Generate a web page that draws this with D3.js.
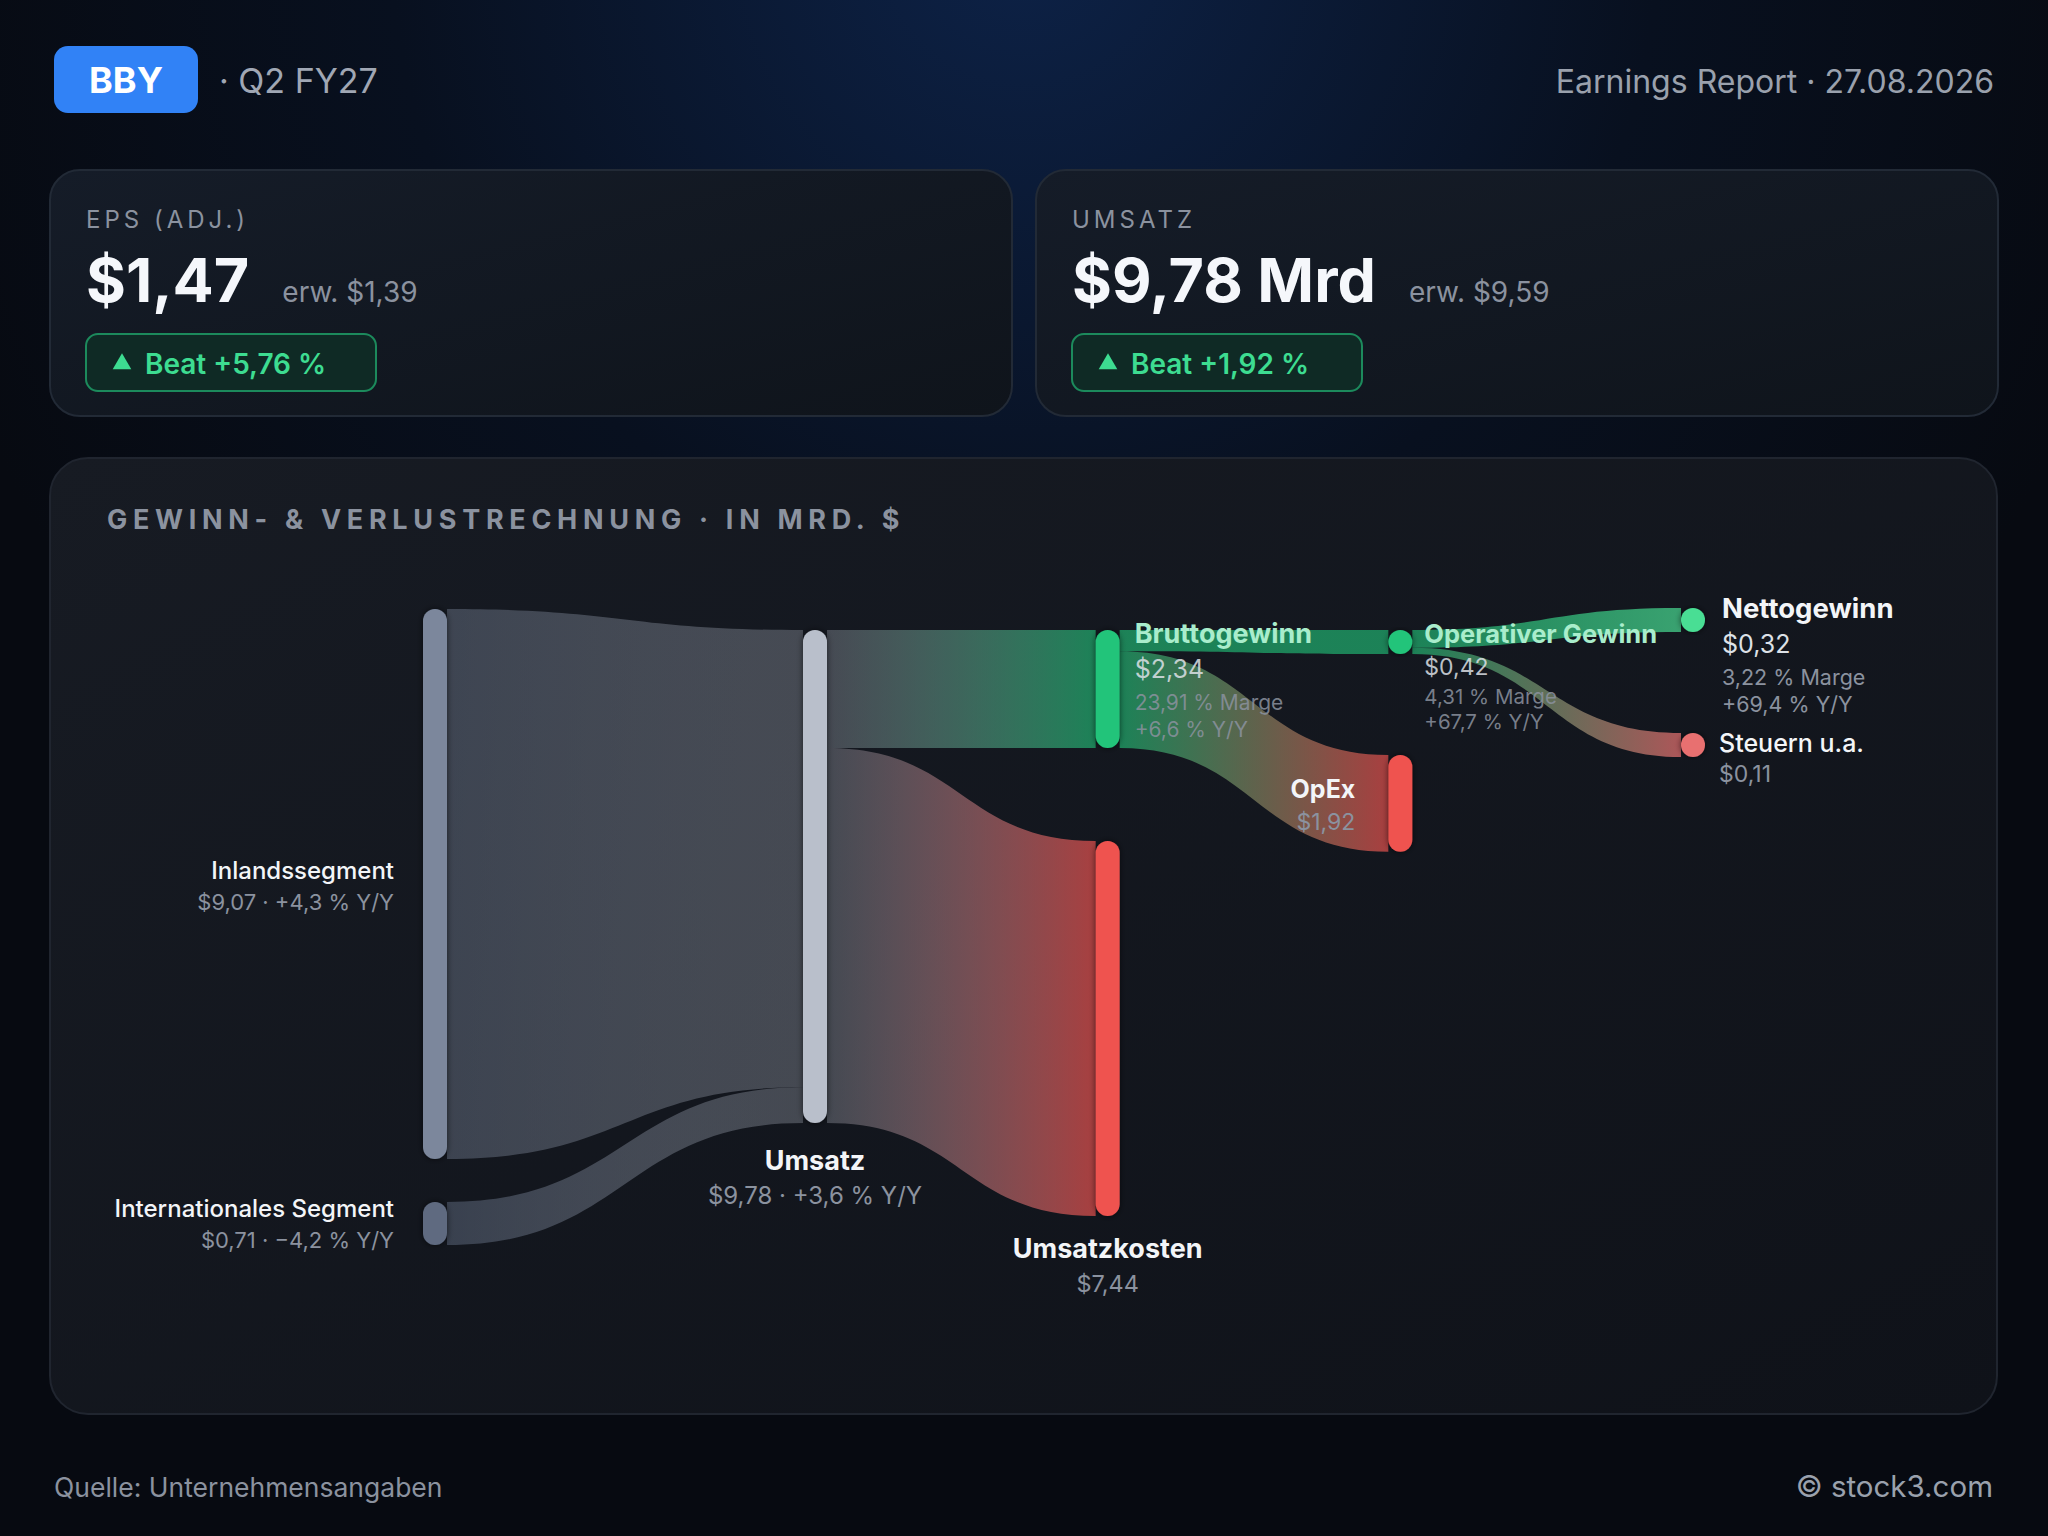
<!DOCTYPE html>
<html>
<head>
<meta charset="utf-8">
<script src="https://cdn.jsdelivr.net/npm/d3@7"></script>
<style>
	html, body { margin: 0; padding: 0; background: #06090f; }
	svg { display: block; font-family: Inter, 'Noto Sans', sans-serif; }
</style>
</head>
<body>
<svg id="chart"></svg>
<script>
const W = 2048;
const H = 1536;

// header / footer texts
const ticker = 'BBY';
const quarter = 'Q2 FY27';
const reportDate = '27.08.2026';
const sourceNote = 'Quelle: Unternehmensangaben';
const brand = '© stock3.com';
const panelTitle = 'GEWINN- & VERLUSTRECHNUNG · IN MRD. $';

// KPI cards
const kpiLabels = ['EPS (ADJ.)', 'UMSATZ'];
const kpiActual = [1.47, 9.78];
const kpiExpected = [1.39, 9.59];
const kpiUnits = ['', ' Mrd'];
const kpiBeat = [5.76, 1.92];

// sankey nodes
const nodeNames = ['Inlandssegment', 'Internationales Segment', 'Umsatz', 'Bruttogewinn', 'Umsatzkosten', 'Operativer Gewinn', 'OpEx', 'Nettogewinn', 'Steuern u.a.'];
const nodeValues = [9.07, 0.71, 9.78, 2.34, 7.44, 0.42, 1.92, 0.32, 0.11];
const nodeColumns = [0, 0, 1, 2, 2, 3, 3, 4, 4];
const nodeYoY = [4.3, -4.2, 3.6, 6.6, null, 67.7, null, 69.4, null];
const nodeMargin = [null, null, null, 23.91, null, 4.31, null, 3.22, null];

// sankey links
const linkSources = [0, 1, 2, 2, 3, 3, 5, 5];
const linkTargets = [2, 2, 3, 4, 5, 6, 7, 8];
const linkValues = [9.07, 0.71, 2.34, 7.44, 0.42, 1.92, 0.32, 0.11];

// styling
const nodeColors = ['#7b879c', '#5f6b80', '#b9bfcb', '#22c47a', '#ef5350', '#22c47a', '#ef5350', '#4ade94', '#e87070'];
const linkAlpha = [0.4, 0.5, 0.3, 0.62, 0.68, 0.62, 0.68, 0.7, 0.72];
const WHITE = '#f3f5f8';
const MINT = '#a9edcc';
const LIGHT = '#dde1e7';
const GRAY = '#8b929f';
const GREEN = '#3ddc91';

const de = d3.formatLocale({ decimal: ',', thousands: '.', grouping: [3], currency: ['$', ''], minus: '\u2212' });
const money = de.format('$.2f');
const signed1 = de.format('+.1f');
const signed2 = de.format('+.2f');
const fixed2 = de.format('.2f');

const svg = d3.select('#chart').attr('width', W).attr('height', H);
const defs = svg.append('defs');

// ---------- background ----------
const bg = defs.append('radialGradient').attr('id', 'bg').attr('gradientUnits', 'userSpaceOnUse')
	.attr('cx', 1024).attr('cy', -60).attr('r', 1150);
bg.append('stop').attr('offset', 0).attr('stop-color', '#0d2247');
bg.append('stop').attr('offset', 0.55).attr('stop-color', '#08101f');
bg.append('stop').attr('offset', 1).attr('stop-color', '#070a11');
svg.append('rect').attr('width', W).attr('height', H).attr('fill', 'url(#bg)');

const cardFill = defs.append('linearGradient').attr('id', 'cardFill').attr('x1', 0).attr('y1', 0).attr('x2', 1).attr('y2', 1);
cardFill.append('stop').attr('offset', 0).attr('stop-color', '#151c28');
cardFill.append('stop').attr('offset', 1).attr('stop-color', '#0f141b');
const panelFill = defs.append('linearGradient').attr('id', 'panelFill').attr('x1', 0).attr('y1', 0).attr('x2', 1).attr('y2', 1);
panelFill.append('stop').attr('offset', 0).attr('stop-color', '#171b23');
panelFill.append('stop').attr('offset', 1).attr('stop-color', '#0f1219');

const shadow = defs.append('filter').attr('id', 'shadow').attr('x', '-50%').attr('y', '-10%').attr('width', '200%').attr('height', '120%');
shadow.append('feDropShadow').attr('dx', 0).attr('dy', 0).attr('stdDeviation', 3)
	.attr('flood-color', '#000').attr('flood-opacity', 0.6);

// ---------- header ----------
svg.append('rect').attr('x', 54).attr('y', 46).attr('width', 144).attr('height', 67).attr('rx', 14)
	.attr('fill', '#3182f6');
svg.append('text').attr('x', 126).attr('y', 93).attr('text-anchor', 'middle')
	.attr('font-size', 36).attr('font-weight', 700).attr('fill', '#fff').text(ticker);
svg.append('text').attr('x', 219).attr('y', 93).attr('font-size', 34).attr('fill', '#a0a7b4')
	.text(`· ${quarter}`);
svg.append('text').attr('x', 1994).attr('y', 93).attr('text-anchor', 'end').attr('font-size', 32)
	.attr('fill', '#9aa1ad').text(`Earnings Report · ${reportDate}`);

// ---------- KPI cards ----------
const CARD_W = 962;
const cardX = d3.scaleLinear().domain([0, 1]).range([50, 50 + CARD_W + 24]);
const cards = svg.selectAll('g.card').data(kpiLabels).join('g').attr('class', 'card')
	.attr('transform', (d, i) => `translate(${cardX(i)},170)`);
cards.append('rect').attr('width', CARD_W).attr('height', 246).attr('rx', 30)
	.attr('fill', 'url(#cardFill)').attr('stroke', '#222a36').attr('stroke-width', 2);
cards.append('text').attr('x', 36).attr('y', 58).attr('font-size', 24).attr('letter-spacing', 4)
	.attr('fill', GRAY).text(d => d);
cards.each(function(d, i) {
	const g = d3.select(this);
	const val = g.append('text').attr('x', 36).attr('y', 132).attr('font-size', 61).attr('font-weight', 700)
		.attr('fill', '#f5f7fb').text(money(kpiActual[i]) + kpiUnits[i]);
	const w = val.node().getComputedTextLength();
	g.append('text').attr('x', 36 + w + 33).attr('y', 132).attr('font-size', 28).attr('fill', GRAY)
		.text(`erw. ${money(kpiExpected[i])}`);
	const badge = g.append('g').attr('transform', 'translate(36,164)');
	badge.append('rect').attr('width', 290).attr('height', 57).attr('rx', 12)
		.attr('fill', '#0f2a25').attr('stroke', '#1c8a5c').attr('stroke-width', 2);
	badge.append('path').attr('transform', 'translate(36,30)')
		.attr('d', d3.symbol(d3.symbolTriangle, 150)()).attr('fill', GREEN);
	badge.append('text').attr('x', 59).attr('y', 40).attr('font-size', 28).attr('font-weight', 600)
		.attr('fill', GREEN).text(`Beat ${signed2(kpiBeat[i])} %`);
});

// ---------- panel ----------
svg.append('rect').attr('x', 50).attr('y', 458).attr('width', 1947).attr('height', 956).attr('rx', 38)
	.attr('fill', 'url(#panelFill)').attr('stroke', '#20252f').attr('stroke-width', 2);
svg.append('text').attr('x', 107).attr('y', 529).attr('font-size', 27).attr('font-weight', 700)
	.attr('letter-spacing', 5.7).attr('fill', GRAY).text(panelTitle);

// ---------- sankey layout ----------
const NODE_W = 24;
const MIN_H = 24;
const ky = d3.scaleLinear().domain([0, nodeValues[2]]).range([0, 493]);
const kySeg = d3.scaleLinear().domain([0, nodeValues[2]]).range([0, 593]);
const colX = d3.scaleLinear().domain([0, 1, 4]).range([423, 803, 1681]);
const colTop = [609, 630, 630, 630, 608];
const nodeGap = [0, 43, 0, 0, 93, 0, 101, 0, 101];

const nodes = nodeNames.map((name, i) => ({
	i, name, value: nodeValues[i], col: nodeColumns[i], color: nodeColors[i], alpha: linkAlpha[i]
}));
d3.groups(nodes, d => d.col).forEach(([col, list]) => {
	let y = colTop[col];
	list.forEach(n => {
		const h = Math.max((col === 0 ? kySeg : ky)(n.value), MIN_H);
		y += nodeGap[n.i];
		n.x0 = colX(col);
		n.x1 = n.x0 + NODE_W;
		n.y0 = y;
		n.y1 = y + h;
		y = n.y1;
	});
});

const links = linkSources.map((s, i) => ({ i, source: nodes[s], target: nodes[linkTargets[i]], value: linkValues[i] }));

function stack(list, n, key) {
	const scale = d3.scaleLinear().domain([0, d3.sum(list, l => l.value)]).range([n.y0, n.y1]);
	let acc = 0;
	list.forEach(l => {
		l[key + '0'] = scale(acc);
		acc += l.value;
		l[key + '1'] = scale(acc);
	});
}
nodes.forEach(n => {
	stack(links.filter(l => l.source === n), n, 's');
	stack(links.filter(l => l.target === n), n, 't');
});

function band(l) {
	const x0 = l.source.x1;
	const x1 = l.target.x0;
	const xm = (x0 + x1) / 2;
	const p = d3.path();
	p.moveTo(x0, l.s0);
	p.bezierCurveTo(xm, l.s0, xm, l.t0, x1, l.t0);
	p.lineTo(x1, l.t1);
	p.bezierCurveTo(xm, l.t1, xm, l.s1, x0, l.s1);
	p.closePath();
	return p.toString();
}

links.forEach(l => {
	const gr = defs.append('linearGradient').attr('id', `lg${l.i}`).attr('gradientUnits', 'userSpaceOnUse')
		.attr('x1', l.source.x1).attr('x2', l.target.x0).attr('y1', 0).attr('y2', 0);
	gr.append('stop').attr('offset', 0).attr('stop-color', l.source.color).attr('stop-opacity', l.source.alpha);
	gr.append('stop').attr('offset', 1).attr('stop-color', l.target.color).attr('stop-opacity', l.target.alpha);
});

// label placement per node (ts/vs/ms: title, value, margin font sizes; gaps: line offsets)
const labelLayout = [
	{ side: 'left', dx: -29, dy: -5, tw: 500, ts: 24, vs: 22, gaps: [0, 31] },
	{ side: 'left', dx: -29, dy: -6, tw: 500, ts: 24, vs: 22, gaps: [0, 31] },
	{ side: 'below', dy: 47, tw: 700, ts: 27, vs: 24, gaps: [0, 34] },
	{ side: 'right', dx: 15, dy: 13, tw: 700, ts: 27, vs: 25, ms: 21, gaps: [0, 35, 67, 94], title: MINT, tint: 0.85 },
	{ side: 'below', dy: 42, tw: 700, ts: 27, vs: 23.5, gaps: [0, 34] },
	{ side: 'right', dx: 12, dy: 13, tw: 700, ts: 25.5, vs: 23, ms: 20.5, gaps: [0, 32, 61, 86], title: MINT, tint: 0.85 },
	{ side: 'mid', dx: -33, dy: -5, tw: 700, ts: 25, vs: 23, gaps: [0, 32] },
	{ side: 'right', dx: 17, dy: 10, tw: 700, ts: 27.5, vs: 25, ms: 21.5, gaps: [0, 35, 67, 94] },
	{ side: 'right', dx: 14, dy: 19, tw: 500, ts: 25, vs: 23, gaps: [0, 30] }
];

function drawLabel(g, n) {
	const lay = labelLayout[n.i];
	const yoy = nodeYoY[n.i];
	const margin = nodeMargin[n.i];
	let x, y, anchor;
	if (lay.side === 'left' || lay.side === 'mid') {
		x = n.x0 + lay.dx; y = (n.y0 + n.y1) / 2 + lay.dy; anchor = 'end';
	} else if (lay.side === 'below') {
		x = (n.x0 + n.x1) / 2; y = n.y1 + lay.dy; anchor = 'middle';
	} else {
		x = n.x1 + lay.dx; y = n.y0 + lay.dy; anchor = 'start';
	}
	const op = lay.tint || 1;
	const lines = [{ t: n.name, size: lay.ts, weight: lay.tw, fill: lay.title || WHITE, op: 1 }];
	if (margin != null) {
		lines.push({ t: money(n.value), size: lay.vs, weight: 400, fill: LIGHT, op });
		lines.push({ t: `${fixed2(margin)} % Marge`, size: lay.ms, weight: 400, fill: GRAY, op });
		lines.push({ t: `${signed1(yoy)} % Y/Y`, size: lay.ms, weight: 400, fill: GRAY, op });
	} else {
		const t = yoy != null ? `${money(n.value)} · ${signed1(yoy)} % Y/Y` : money(n.value);
		lines.push({ t, size: lay.vs, weight: 400, fill: GRAY, op: 1 });
	}
	g.append('g').selectAll('text').data(lines).join('text')
		.attr('x', x).attr('y', (d, k) => y + lay.gaps[k]).attr('text-anchor', anchor)
		.attr('font-size', d => d.size).attr('font-weight', d => d.weight).attr('fill', d => d.fill)
		.attr('fill-opacity', d => d.op)
		.text(d => d.t);
}

// links first, then nodes, then labels on top
const sankey = svg.append('g');
sankey.append('g').selectAll('path').data(links).join('path')
	.attr('d', band).attr('fill', d => `url(#lg${d.i})`);
sankey.append('g').selectAll('rect').data(nodes).join('rect')
	.attr('x', d => d.x0).attr('y', d => d.y0)
	.attr('width', NODE_W).attr('height', d => d.y1 - d.y0)
	.attr('rx', NODE_W / 2).attr('fill', d => d.color).attr('filter', 'url(#shadow)');
const labels = sankey.append('g');
nodes.forEach(n => drawLabel(labels, n));

// ---------- footer ----------
svg.append('text').attr('x', 54).attr('y', 1497).attr('font-size', 26.5).attr('fill', GRAY).text(sourceNote);
svg.append('text').attr('x', 1993).attr('y', 1497).attr('text-anchor', 'end').attr('font-size', 29.5)
	.attr('fill', '#9aa1ad').text(brand);
</script>
</body>
</html>
